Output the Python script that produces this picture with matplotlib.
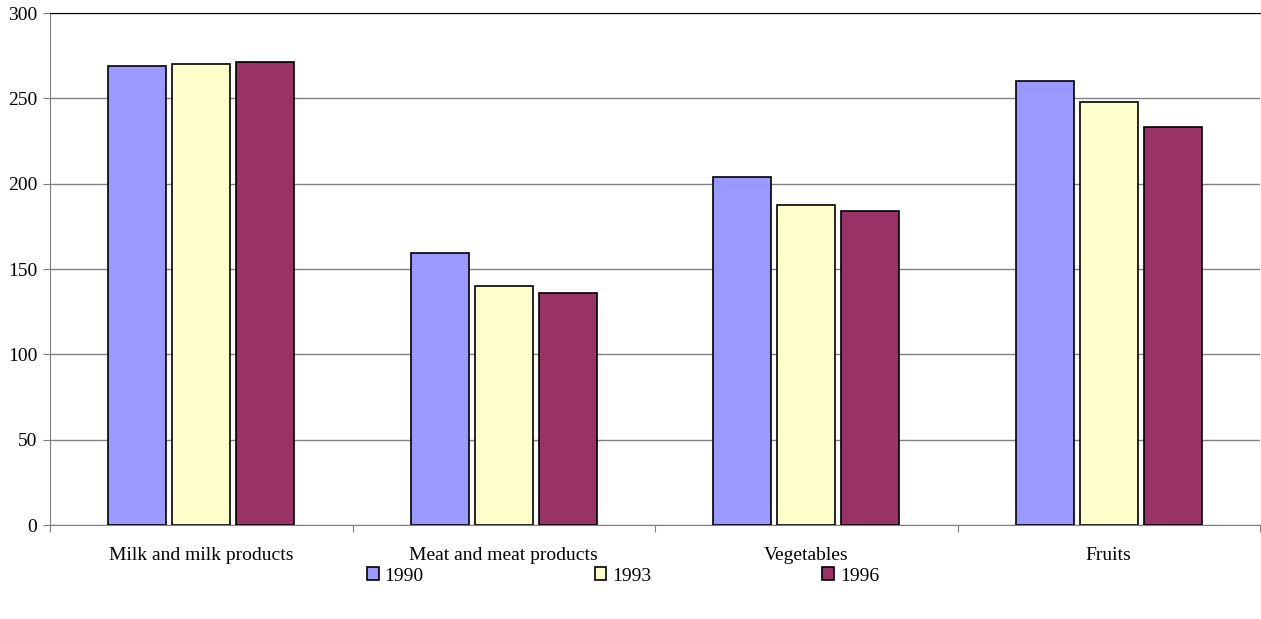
import numpy as np
import matplotlib
matplotlib.use("Agg")
import matplotlib.pyplot as plt

# data
categories = ['Milk and milk products', 'Meat and meat products', 'Vegetables', 'Fruits']
years = ['1990', '1993', '1996']
v1990 = [269, 159.5, 204, 260]
v1993 = [270, 140, 187.5, 248]
v1996 = [271, 136, 184, 233]
colors = ['#9999ff', '#ffffcc', '#993366']

plt.rcParams['font.family'] = ['Liberation Serif', 'DejaVu Serif']
plt.rcParams['font.size'] = 14

fig = plt.figure(figsize=(12.61, 6.19), dpi=100)
ax = fig.add_axes([50 / 1261, 1 - 525 / 619, 1210 / 1261, 512 / 619])

x = np.arange(len(categories))
step = 64 / 302.5
width = 58 / 302.5
for i, (vals, c, yr) in enumerate(zip([v1990, v1993, v1996], colors, years)):
    ax.bar(x + (i - 1) * step, vals, width, color=c, edgecolor='black',
           linewidth=1.2, label=yr, zorder=3)

ax.set_xlim(-0.5, len(categories) - 0.5)
ax.set_ylim(0, 300)
ax.set_yticks(range(0, 301, 50))
ax.yaxis.grid(True, color='#808080', linewidth=1, zorder=0)

# category labels between boundary ticks
ax.set_xticks(np.arange(-0.5, len(categories), 1))
ax.set_xticklabels([])
ax.set_xticks(x, minor=True)
ax.set_xticklabels(categories, minor=True)
ax.tick_params(axis='x', which='minor', length=0, pad=16)
ax.tick_params(axis='x', which='major', length=5, color='#808080')
ax.tick_params(axis='y', length=5, color='#808080', pad=4)

for s in ['left', 'bottom']:
    ax.spines[s].set_color('#808080')
ax.spines['right'].set_visible(False)
ax.spines['top'].set_color('black')

fig.legend(loc='center', bbox_to_anchor=(623 / 1261, 1 - 576 / 619), ncol=3,
           frameon=False, handlelength=0.6, handleheight=0.6, handletextpad=0.3,
           columnspacing=8.8, fontsize=14)

fig.savefig('out.png', dpi=100)
